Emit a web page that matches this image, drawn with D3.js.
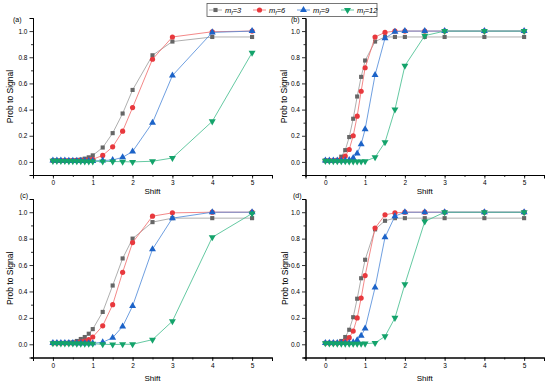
<!DOCTYPE html>
<html>
<head>
<meta charset="utf-8">
<script src="https://cdn.jsdelivr.net/npm/d3@7"></script>
<style>
  body { margin: 0; background: #fff; }
  svg { font-family: "Liberation Sans", Arial, sans-serif; }
</style>
</head>
<body>
<div id="chart"></div>
<script>
// x values shared by every series
var shift = [0, 0.1, 0.2, 0.3, 0.4, 0.5, 0.6, 0.7, 0.8, 0.9, 1.0, 1.25, 1.5, 1.75, 2, 2.5, 3, 4, 5];

var seriesNames = ["3", "6", "9", "12"];
var panelLabels = ["(a)", "(b)", "(c)", "(d)"];
var xTicks = [0, 1, 2, 3, 4, 5];
var yTicks = [0, 0.2, 0.4, 0.6, 0.8, 1.0];

// panel (a)
var a3  = [0.01, 0.01, 0.01, 0.01, 0.01, 0.012, 0.015, 0.018, 0.025, 0.035, 0.05, 0.11, 0.22, 0.37, 0.55, 0.815, 0.92, 0.955, 0.955];
var a6  = [0.01, 0.01, 0.01, 0.01, 0.01, 0.01, 0.01, 0.012, 0.013, 0.015, 0.02, 0.05, 0.115, 0.235, 0.415, 0.785, 0.955, 0.995, 1.0];
var a9  = [0.01, 0.01, 0.01, 0.01, 0.009, 0.009, 0.008, 0.008, 0.008, 0.008, 0.008, 0.01, 0.015, 0.035, 0.08, 0.30, 0.66, 0.99, 1.0];
var a12 = [0.008, 0.008, 0.007, 0.007, 0.006, 0.006, 0.005, 0.005, 0.004, 0.004, 0.004, 0.004, 0.003, 0.002, 0.0, 0.005, 0.03, 0.31, 0.835];
// panel (b)
var b3  = [0.01, 0.01, 0.01, 0.015, 0.04, 0.09, 0.19, 0.33, 0.50, 0.65, 0.775, 0.92, 0.955, 0.955, 0.955, 0.955, 0.955, 0.955, 0.955];
var b6  = [0.01, 0.01, 0.01, 0.01, 0.02, 0.045, 0.095, 0.20, 0.35, 0.54, 0.72, 0.955, 0.99, 1.0, 1.0, 1.0, 1.0, 1.0, 1.0];
var b9  = [0.01, 0.01, 0.01, 0.01, 0.01, 0.01, 0.015, 0.03, 0.065, 0.135, 0.25, 0.665, 0.945, 0.995, 1.0, 1.0, 1.0, 1.0, 1.0];
var b12 = [0.008, 0.007, 0.006, 0.005, 0.005, 0.005, 0.004, 0.004, 0.004, 0.004, 0.005, 0.035, 0.15, 0.40, 0.735, 0.965, 1.0, 1.0, 1.0];
// panel (c)
var c3  = [0.01, 0.01, 0.01, 0.01, 0.012, 0.015, 0.025, 0.04, 0.055, 0.08, 0.115, 0.245, 0.445, 0.65, 0.80, 0.925, 0.955, 0.955, 0.955];
var c6  = [0.01, 0.01, 0.01, 0.01, 0.01, 0.01, 0.012, 0.018, 0.025, 0.035, 0.055, 0.14, 0.30, 0.545, 0.77, 0.97, 0.995, 1.0, 1.0];
var c9  = [0.01, 0.01, 0.01, 0.01, 0.009, 0.009, 0.008, 0.008, 0.008, 0.008, 0.008, 0.015, 0.05, 0.135, 0.29, 0.72, 0.955, 1.0, 1.0];
var c12 = [0.008, 0.008, 0.007, 0.007, 0.006, 0.006, 0.005, 0.005, 0.004, 0.004, 0.004, 0.0, -0.002, 0.0, 0.0, 0.035, 0.175, 0.81, 0.99];
// panel (d)
var d3v = [0.01, 0.01, 0.01, 0.01, 0.025, 0.055, 0.11, 0.205, 0.345, 0.50, 0.64, 0.87, 0.935, 0.955, 0.955, 0.955, 0.955, 0.955, 0.955];
var d6  = [0.01, 0.01, 0.01, 0.01, 0.015, 0.025, 0.05, 0.10, 0.20, 0.35, 0.52, 0.88, 0.98, 0.995, 1.0, 1.0, 1.0, 1.0, 1.0];
var d9  = [0.01, 0.01, 0.01, 0.01, 0.01, 0.01, 0.01, 0.015, 0.03, 0.065, 0.12, 0.43, 0.81, 0.97, 1.0, 1.0, 1.0, 1.0, 1.0];
var d12 = [0.008, 0.007, 0.006, 0.005, 0.005, 0.005, 0.004, 0.004, 0.004, 0.004, 0.005, 0.01, 0.06, 0.20, 0.455, 0.93, 1.0, 1.0, 1.0];

var panelData = [[a3, a6, a9, a12], [b3, b6, b9, b12], [c3, c6, c9, c12], [d3v, d6, d9, d12]];

// styling
var lineColors = ["#9a9a9a", "#f06a6a", "#4a86d8", "#3dbb8a"];
var markColors = ["#666666", "#e8383d", "#1c63c8", "#14a36b"];
var symbols = [d3.symbolSquare, d3.symbolCircle, d3.symbolTriangle, d3.symbolTriangle];
var symSizes = [17, 21, 21, 21];
var symRot = [0, 0, 0, 180];

var svgWidth = 550, svgHeight = 386;
var svg = d3.select("#chart").append("svg")
  .attr("width", svgWidth)
  .attr("height", svgHeight);

// panel boxes: left, right, top, bottom of the axes
var panels = [
  { x0: 33, x1: 272, y0: 18, y1: 175, lx: 13, ly: 22, ty: 10, sy: 193.5 },
  { x0: 305.5, x1: 544, y0: 18, y1: 175, lx: 291, ly: 22, ty: 284, sy: 193.5 },
  { x0: 33, x1: 272, y0: 199, y1: 357.5, lx: 20, ly: 198, ty: 10, sy: 380.5 },
  { x0: 305.5, x1: 544, y0: 199, y1: 357.5, lx: 293, ly: 198, ty: 285, sy: 380.5 }
];

panels.forEach(function(p, pi) {
  var x = d3.scaleLinear().domain([-0.5, 5.5]).range([p.x0, p.x1]);
  var y = d3.scaleLinear().domain([-0.1, 1.1]).range([p.y1, p.y0]);

  // minor ticks
  var gx = svg.append("g").attr("transform", `translate(0, ${p.y1})`);
  gx.call(d3.axisBottom(x).tickValues(d3.range(-0.5, 5.51, 0.5)).tickSize(2).tickFormat(""));
  var gy = svg.append("g").attr("transform", `translate(${p.x0}, 0)`);
  gy.call(d3.axisLeft(y).tickValues(d3.range(-0.1, 1.11, 0.2)).tickSize(2).tickFormat(""));

  // major ticks
  var bx = svg.append("g").attr("transform", `translate(0, ${p.y1})`)
    .call(d3.axisBottom(x).tickValues(xTicks).tickSize(3.5).tickPadding(2).tickFormat(d3.format("d")));
  var by = svg.append("g").attr("transform", `translate(${p.x0}, 0)`)
    .call(d3.axisLeft(y).tickValues(yTicks).tickSize(3.5).tickPadding(2).tickFormat(d3.format(".1f")));

  [gx, gy, bx, by].forEach(function(g) {
    g.selectAll("path.domain").attr("stroke", "#000").attr("stroke-width", 1);
    g.selectAll("line").attr("stroke", "#000").attr("stroke-width", 0.8);
    g.selectAll("text").attr("font-size", 6.5).attr("fill", "#000");
  });

  // axis titles
  svg.append("text")
    .attr("x", (x(0) + x(5)) / 2)
    .attr("y", p.sy)
    .attr("text-anchor", "middle")
    .attr("font-size", 8)
    .text("Shift");

  svg.append("text")
    .attr("transform", `translate(${p.ty}, ${(p.y0 + p.y1) / 2}) rotate(-90)`)
    .attr("text-anchor", "middle")
    .attr("dy", "0.35em")
    .attr("font-size", 8.5)
    .text("Prob to Signal");

  svg.append("text")
    .attr("x", p.lx)
    .attr("y", p.ly)
    .attr("font-size", 7)
    .text(panelLabels[pi]);

  var line = d3.line().x(function(d) { return x(d[0]); }).y(function(d) { return y(d[1]); });

  panelData[pi].forEach(function(vals, si) {
    var pts = shift.map(function(s, i) { return [s, vals[i]]; });
    svg.append("path")
      .datum(pts)
      .attr("fill", "none")
      .attr("stroke", lineColors[si])
      .attr("stroke-width", 0.8)
      .attr("d", line);

    svg.append("g").selectAll("path")
      .data(pts)
      .enter()
      .append("path")
      .attr("transform", function(d) { return `translate(${x(d[0])}, ${y(d[1])}) rotate(${symRot[si]})`; })
      .attr("d", d3.symbol().type(symbols[si]).size(symSizes[si]))
      .attr("fill", markColors[si]);
  });
});

// legend
var legend = svg.append("g");
legend.append("rect")
  .attr("x", 207).attr("y", 3.5)
  .attr("width", 170).attr("height", 13)
  .attr("fill", "#fff").attr("stroke", "#555").attr("stroke-width", 0.8);

var legX = [209, 253, 297, 341];
seriesNames.forEach(function(name, i) {
  var g = legend.append("g").attr("transform", `translate(${legX[i]}, 10)`);
  g.append("line").attr("x1", 0).attr("x2", 13).attr("y1", 0).attr("y2", 0)
    .attr("stroke", lineColors[i]).attr("stroke-width", 0.8);
  g.append("path")
    .attr("transform", `translate(6.5, 0) rotate(${symRot[i]})`)
    .attr("d", d3.symbol().type(symbols[i]).size(symSizes[i]))
    .attr("fill", markColors[i]);
  var t = g.append("text").attr("x", 16).attr("y", 3).attr("font-size", 7.5).attr("font-style", "italic");
  t.append("tspan").text("m");
  t.append("tspan").attr("font-size", 5).attr("dy", 1.5).text("f");
  t.append("tspan").attr("dy", -1.5).text("=" + name);
});
</script>
</body>
</html>
